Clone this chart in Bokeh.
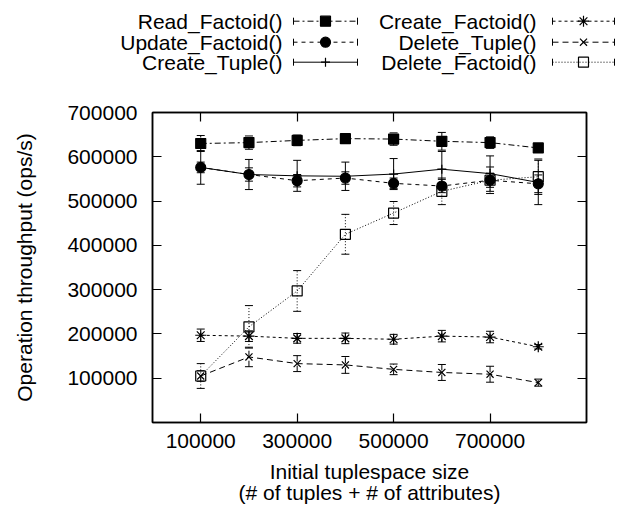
from bokeh.plotting import figure
from bokeh.models import (Range1d, LinearAxis, FixedTicker, Whisker, TeeHead,
                          ColumnDataSource)
from bokeh.layouts import column
from bokeh.core.properties import value
from bokeh.embed import file_html
from bokeh.resources import INLINE

# ---------------- data ----------------
sizes = [100000, 200000, 300000, 400000, 500000, 600000, 700000, 800000]

read_factoid = [630000, 632000, 637000, 641000, 640000, 635000, 632000, 620000]
read_factoid_err = [18000, 15000, 12000, 10000, 14000, 20000, 13000, 10000]

update_factoid = [576000, 560000, 546000, 552000, 540000, 534000, 547000, 539000]
update_factoid_err = [12000, 15000, 14000, 14000, 12000, 15000, 16000, 20000]

create_tuple = [576000, 560000, 557000, 556000, 561000, 572000, 562000, 542000]
create_tuple_err = [38000, 34000, 35000, 32000, 35000, 40000, 40000, 50000]

create_factoid = [197000, 195000, 190000, 190000, 188000, 195000, 193000, 171000]
create_factoid_err = [14000, 12000, 11000, 12000, 11000, 13000, 13000, 5000]

delete_tuple = [105000, 148000, 133000, 130000, 120000, 113000, 109000, 90000]
delete_tuple_err = [12000, 22000, 18000, 19000, 12000, 18000, 18000, 8000]

delete_factoid = [105000, 216000, 297000, 425000, 473000, 522000, 547000, 555000]
delete_factoid_err = [28000, 48000, 46000, 45000, 26000, 30000, 30000, 40000]

series_names = ["Read_Factoid()", "Update_Factoid()", "Create_Tuple()",
                "Create_Factoid()", "Delete_Tuple()", "Delete_Factoid()"]

x_ticks = [100000, 300000, 500000, 700000]
x_tick_labels = ["100000", "300000", "500000", "700000"]
y_ticks = [100000, 200000, 300000, 400000, 500000, 600000, 700000]
y_tick_labels = ["100000", "200000", "300000", "400000", "500000", "600000", "700000"]

x_title = "Initial tuplespace size\n(# of tuples + # of attributes)"
y_title = "Operation throughput (ops/s)"

# ---------------- styles ----------------
FONT = "Liberation Sans"
FS = "21px"
W = 620
styles = [
    dict(dash="6 3 2 3", marker="square", size=10, fill="black"),
    dict(dash="4 4", marker="circle", size=10, fill="black"),
    dict(dash="solid", marker="cross", size=9, fill="black"),
    dict(dash="3 3", marker="asterisk", size=11, fill="black"),
    dict(dash="6 4", marker="x", size=10, fill="black"),
    dict(dash="1 2", marker="square", size=10, fill=None),
]
values = [read_factoid, update_factoid, create_tuple, create_factoid, delete_tuple, delete_factoid]
errors = [read_factoid_err, update_factoid_err, create_tuple_err, create_factoid_err,
          delete_tuple_err, delete_factoid_err]

# ---------------- legend figure ----------------
LH = 92
leg = figure(width=W, height=LH, x_range=Range1d(0, W), y_range=Range1d(LH, 0),
             toolbar_location=None, output_backend="svg", min_border=0,
             x_axis_type=None, y_axis_type=None)
leg.frame_align = False
leg.grid.visible = False
leg.outline_line_color = None

col_text_right = [282, 536]
col_sample = [(293, 357), (552, 614)]
row_y = [20.7, 41.7, 61.7]

for i, name in enumerate(series_names):
    c, r = divmod(i, 3)
    st = styles[i]
    yy = row_y[r]
    leg.text(x=[col_text_right[c]], y=[yy], text=[name], text_align="right",
             text_baseline="middle", text_font=value(FONT), text_font_size=FS,
             text_color="black")
    x0, x1 = col_sample[c]
    leg.segment(x0=[x0], y0=[yy], x1=[x1], y1=[yy], line_color="black",
                line_width=1, line_dash=st["dash"])
    leg.segment(x0=[x0, x1], y0=[yy - 3.5, yy - 3.5], x1=[x0, x1], y1=[yy + 3.5, yy + 3.5],
                line_color="black", line_width=1)
    leg.scatter(x=[(x0 + x1) / 2], y=[yy], marker=st["marker"], size=st["size"],
                line_color="black", fill_color=st["fill"], line_width=1.2)

# ---------------- main figure ----------------
TOP = 112 - LH
MH = 417
p = figure(width=W, height=MH, x_range=Range1d(0, 900000), y_range=Range1d(0, 700000),
           toolbar_location=None, output_backend="svg",
           min_border_left=152, min_border_right=W - 152 - 434, min_border_top=TOP,
           min_border_bottom=MH - TOP - 310)
p.frame_align = False
p.grid.visible = False
p.outline_line_color = "black"
p.outline_line_width = 1.5


def style_axis(ax, ticks, labels, show_labels):
    ax.ticker = FixedTicker(ticks=ticks)
    ax.major_tick_in = 9
    ax.major_tick_out = 0
    ax.minor_tick_in = 0
    ax.minor_tick_out = 0
    ax.major_tick_line_color = "black"
    ax.major_tick_line_width = 1.2
    ax.axis_line_color = "black"
    ax.axis_line_width = 1.5
    if show_labels:
        ax.major_label_overrides = {t: l for t, l in zip(ticks, labels)}
        ax.major_label_text_font = FONT
        ax.major_label_text_font_size = FS
        ax.major_label_text_color = "black"
        ax.axis_label_text_font = FONT
        ax.axis_label_text_font_size = FS
        ax.axis_label_text_font_style = "normal"
        ax.axis_label_text_color = "black"
        ax.axis_label_text_line_height = 0.95
    else:
        ax.major_label_overrides = {t: "" for t in ticks}
        ax.major_label_text_font_size = "1px"
        ax.major_label_standoff = 0


style_axis(p.xaxis[0], x_ticks, x_tick_labels, True)
style_axis(p.yaxis[0], y_ticks, y_tick_labels, True)
p.xaxis[0].major_label_standoff = 11
p.yaxis[0].major_label_standoff = 15
p.xaxis[0].axis_label = x_title
p.xaxis[0].axis_label_standoff = 9
p.yaxis[0].axis_label = y_title
p.yaxis[0].axis_label_standoff = 28

top_ax = LinearAxis()
style_axis(top_ax, x_ticks, x_tick_labels, False)
p.add_layout(top_ax, "above")
right_ax = LinearAxis()
style_axis(right_ax, y_ticks, y_tick_labels, False)
p.add_layout(right_ax, "right")

for vals, errs, st in zip(values, errors, styles):
    p.line(sizes, vals, line_color="black", line_width=1, line_dash=st["dash"])
    src = ColumnDataSource(dict(base=sizes,
                                upper=[v + e for v, e in zip(vals, errs)],
                                lower=[v - e for v, e in zip(vals, errs)]))
    w = Whisker(source=src, base="base", upper="upper", lower="lower", dimension="height",
                line_color="black", line_width=1, line_dash=st["dash"],
                upper_head=TeeHead(size=8, line_color="black", line_width=1),
                lower_head=TeeHead(size=8, line_color="black", line_width=1))
    p.add_layout(w)

for vals, st in zip(values, styles):
    p.scatter(sizes, vals, marker=st["marker"], size=st["size"], line_color="black",
              fill_color=st["fill"], line_width=1.2)

layout = column(leg, p, spacing=0)
open("out.html", "w").write(file_html(layout, INLINE))
